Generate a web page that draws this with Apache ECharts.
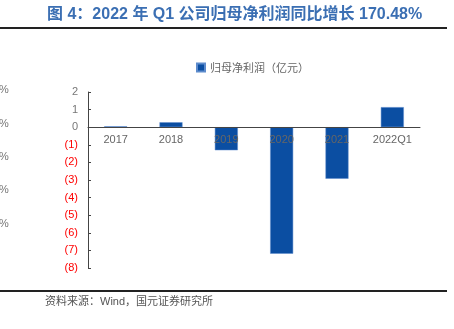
<!DOCTYPE html>
<html><head><meta charset="utf-8">
<script src="https://cdn.jsdelivr.net/npm/echarts@6/dist/echarts.min.js"></script>
<style>html,body{margin:0;padding:0;background:#fff;}#c{width:454px;height:329px;}</style>
</head><body><div id="c"></div>
<script>
var categories = ['2017', '2018', '2019', '2020', '2021', '2022Q1'];
var profitValues = [0.05, 0.28, -1.31, -7.19, -2.93, 1.14];
var seriesName = '归母净利润（亿元）';
var titleText = '图 4：2022 年 Q1 公司归母净利润同比增长 170.48%';
var sourceText = '资料来源：Wind，国元证券研究所';
var leftFragments = ['%', '%', '%', '%', '%'];
var leftFragY = [90, 124, 157, 190, 224];

var chart = echarts.init(document.getElementById('c'), null, {renderer: 'canvas'});
var graphics = [
  {type: 'text', x: 47, y: 7, style: {text: titleText, fill: '#3b6fb3', font: 'bold 16px Arial, "Noto Sans CJK SC", sans-serif'}},
  {type: 'rect', shape: {x: 0, y: 27, width: 447, height: 2}, style: {fill: '#222'}},
  {type: 'rect', shape: {x: 0, y: 290, width: 447, height: 2}, style: {fill: '#222'}},
  {type: 'text', x: 45, y: 296, style: {text: sourceText, fill: '#555', font: '11px Arial, "Noto Sans CJK SC", sans-serif'}}
];
leftFragments.forEach(function (t, i) {
  graphics.push({type: 'text', x: -1, y: leftFragY[i] - 6, style: {text: t, fill: '#777', font: '11px Arial, sans-serif'}});
});
chart.setOption({
  animation: false,
  graphic: graphics,
  legend: {
    data: [seriesName], top: 57, left: 191, itemWidth: 8, itemHeight: 8, itemGap: 3,
    textStyle: {color: '#666', fontSize: 11, fontFamily: '"Noto Sans CJK SC", sans-serif'},
    icon: 'rect'
  },
  grid: {left: 88, right: 34, top: 92, bottom: 61},
  xAxis: {
    type: 'category', data: categories, z: 5,
    offset: -140.8,
    axisLine: {onZero: false, lineStyle: {color: '#444', width: 1}},
    axisTick: {inside: true, length: 4, lineStyle: {color: '#444'}},
    axisLabel: {color: '#666', fontSize: 11, fontFamily: 'Arial, sans-serif', margin: 7}
  },
  yAxis: {
    type: 'value', min: -8, max: 2, interval: 1,
    splitLine: {show: false},
    axisLine: {show: true, lineStyle: {color: '#444'}},
    axisTick: {show: true, inside: true, length: 3, lineStyle: {color: '#444'}},
    axisLabel: {
      fontSize: 11, fontFamily: 'Arial, sans-serif', margin: 10,
      formatter: function (v) { return v < 0 ? '(' + (-v) + ')' : String(v); },
      color: function (v) { return Number(v) < 0 ? '#ff0000' : '#777'; }
    }
  },
  series: [{
    name: seriesName, type: 'bar', data: profitValues, barWidth: 23,
    itemStyle: {color: '#0b4ea2', borderColor: '#5d8bcc', borderWidth: 0.5}
  }]
});
</script></body></html>
